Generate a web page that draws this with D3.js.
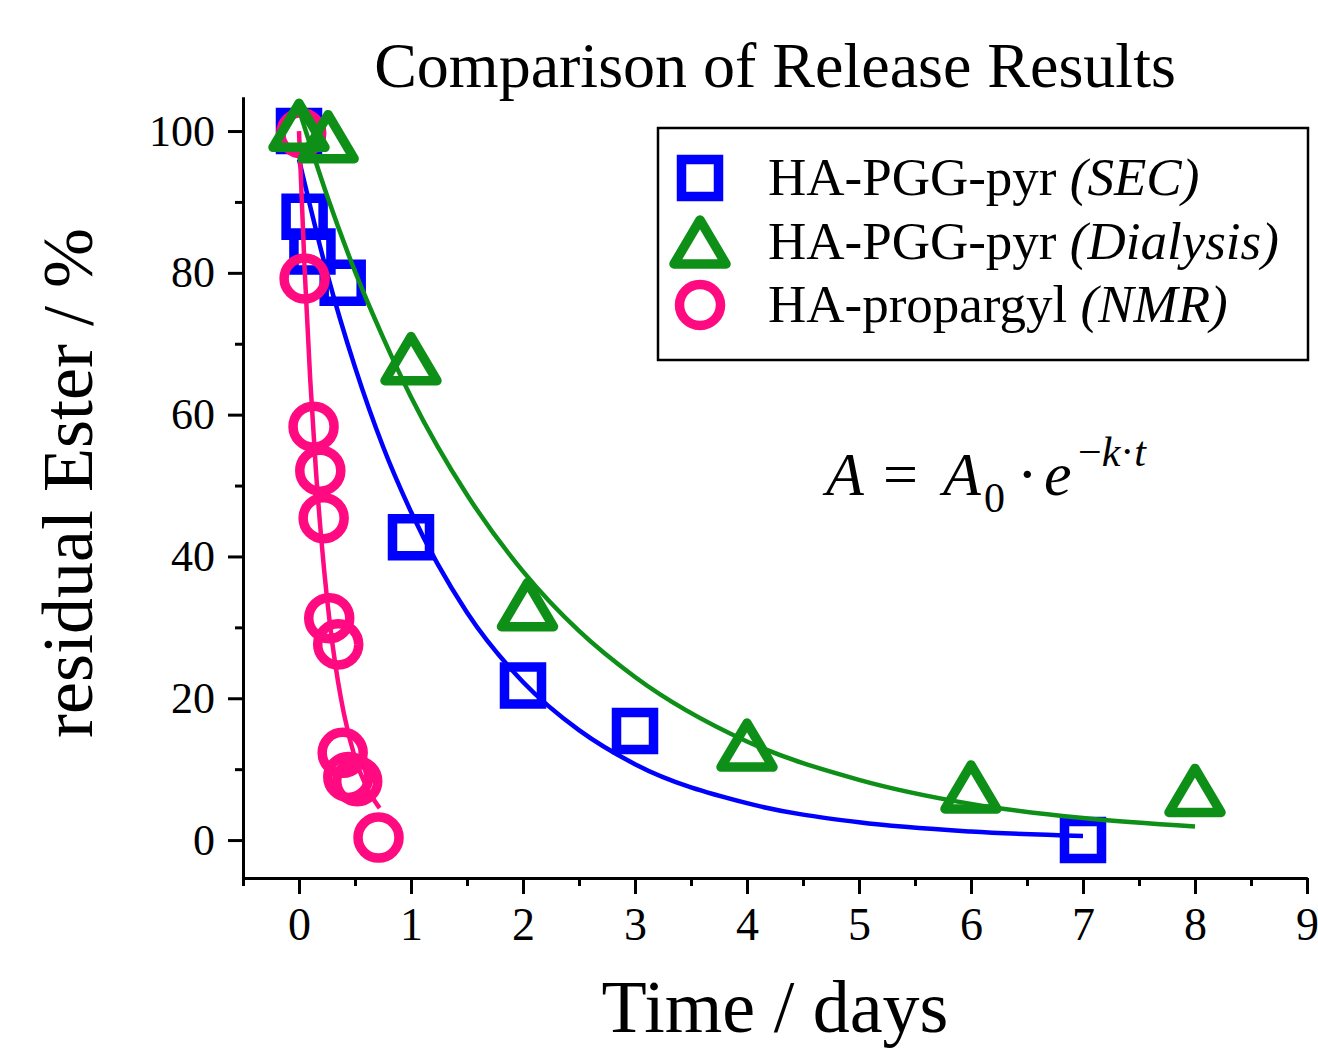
<!DOCTYPE html>
<html>
<head>
<meta charset="utf-8">
<script src="https://cdn.jsdelivr.net/npm/d3@7"></script>
<style>
  body { margin: 0; background: #fff; }
  svg { display: block; font-family: "Liberation Serif", "DejaVu Serif", serif; }
  .axis path, .axis line { stroke: #000; stroke-width: 3; }
  .axis text { fill: #000; font-family: "Liberation Serif", serif; }
</style>
</head>
<body>
<svg class="chart"></svg>
<script>
var secTime = [0, 0.05, 0.12, 0.39, 1, 2, 3, 7];
var secVal  = [100, 87.9, 83, 78.6, 42.7, 21.8, 15.4, 0];

var dialTime = [0, 0.26, 1, 2.04, 4, 6, 8];
var dialVal  = [100.8, 99.2, 67.9, 33.2, 13.4, 7.5, 7.0];

var nmrTime = [0.02, 0.05, 0.13, 0.19, 0.22, 0.27, 0.35, 0.39, 0.44, 0.52, 0.71];
var nmrVal  = [99.7, 79.2, 58.3, 52.1, 45.4, 31.3, 27.6, 12.3, 8.9, 8.3, 0.35];

// fitted exponential curves
var secFitTime = [0, 0.25, 0.5, 0.75, 1, 1.5, 2, 2.5, 3, 4, 5, 6, 7];
var secFitVal  = [96, 80.0, 66.7, 55.5, 46.3, 32.1, 22.3, 15.5, 10.7, 5.2, 2.5, 1.2, 0.58];

var dialFitTime = [0, 0.25, 0.5, 0.75, 1, 1.5, 2, 2.5, 3, 4, 5, 6, 7, 8];
var dialFitVal  = [103, 90.9, 80.2, 70.9, 62.5, 48.7, 37.9, 29.5, 23.0, 13.9, 8.5, 5.1, 3.1, 1.9];

var nmrFitTime = [0, 0.05, 0.1, 0.15, 0.2, 0.25, 0.3, 0.35, 0.4, 0.5, 0.6, 0.72];
var nmrFitVal  = [100, 80.6, 65.0, 52.4, 42.3, 34.1, 27.5, 22.2, 17.9, 11.6, 7.6, 4.5];

var xTicks = [0, 1, 2, 3, 4, 5, 6, 7, 8, 9];
var yTicks = [0, 20, 40, 60, 80, 100];

var width = 1318, height = 1051;
var svg = d3.select(".chart").attr("width", width).attr("height", height);

svg.append("rect").attr("width", width).attr("height", height).attr("fill", "#fff");

var x = d3.scaleLinear().domain([-0.5, 9]).range([243, 1307]);
var y = d3.scaleLinear().domain([-5.35, 104.8]).range([878, 97]);

// axes (major + minor ticks)
svg.append("g").attr("class", "axis")
    .attr("transform", "translate(0,878)")
    .call(d3.axisBottom(x).tickValues(d3.range(-0.5, 9, 1)).tickSize(8).tickSizeOuter(0).tickFormat(""));
svg.append("g").attr("class", "axis")
    .attr("transform", "translate(0,878)")
    .call(d3.axisBottom(x).tickValues(xTicks).tickSize(16).tickSizeOuter(0).tickPadding(13).tickFormat(d3.format("d")))
    .selectAll("text").style("font-size", "46px");

svg.append("g").attr("class", "axis")
    .attr("transform", "translate(243,0)")
    .call(d3.axisLeft(y).tickValues([10, 30, 50, 70, 90]).tickSize(8).tickSizeOuter(0).tickFormat(""));
svg.append("g").attr("class", "axis")
    .attr("transform", "translate(243,0)")
    .call(d3.axisLeft(y).tickValues(yTicks).tickSize(15).tickSizeOuter(0).tickPadding(13).tickFormat(d3.format("d")))
    .selectAll("text").style("font-size", "44px");

// titles
svg.append("text").attr("x", 775).attr("y", 87).attr("text-anchor", "middle")
    .style("font-size", "64px").text("Comparison of Release Results");
svg.append("text").attr("x", 775).attr("y", 1032).attr("text-anchor", "middle")
    .style("font-size", "74px").text("Time / days");
svg.append("text").attr("transform", "translate(92,483) rotate(-90)").attr("text-anchor", "middle")
    .style("font-size", "72px").text("residual Ester / %");

// marker shapes
function markerPath(shape) {
  if (shape == "square") return "M-18.5,-18.5H18.5V18.5H-18.5Z";
  if (shape == "triangle") return "M0,-22L26,22H-26Z";
  return d3.symbol().type(d3.symbolCircle).size(Math.PI * 20.5 * 20.5)();
}

var series = [
  {name: "sec", color: "#0000ff", shape: "square", t: secTime, v: secVal, ft: secFitTime, fv: secFitVal},
  {name: "nmr", color: "#ff0a80", shape: "circle", t: nmrTime, v: nmrVal, ft: nmrFitTime, fv: nmrFitVal},
  {name: "dial", color: "#0e8f17", shape: "triangle", t: dialTime, v: dialVal, ft: dialFitTime, fv: dialFitVal}
];

var line = d3.line()
    .x(function(d){ return x(d[0]); })
    .y(function(d){ return y(d[1]); })
    .curve(d3.curveMonotoneX);

series.forEach(function(s) {
  var g = svg.append("g").attr("class", s.name);
  g.selectAll(".pt")
      .data(d3.zip(s.t, s.v))
    .enter().append("path")
      .attr("class", "pt")
      .attr("d", markerPath(s.shape))
      .attr("transform", function(d){ return "translate(" + x(d[0]) + "," + y(d[1]) + ")"; })
      .attr("fill", "none")
      .attr("stroke", s.color)
      .attr("stroke-width", 9.5)
      .attr("stroke-linejoin", s.shape == "triangle" ? "round" : "miter");
  g.append("path")
      .datum(d3.zip(s.ft, s.fv))
      .attr("d", line)
      .attr("fill", "none")
      .attr("stroke", s.color)
      .attr("stroke-width", 4.5);
});

// legend
var legend = svg.append("g");
legend.append("rect")
    .attr("x", 658).attr("y", 128).attr("width", 650).attr("height", 232)
    .attr("fill", "#fff").attr("stroke", "#000").attr("stroke-width", 2.5);

var legendItems = [
  {shape: "square", color: "#0000ff", label: "HA-PGG-pyr ", method: "(SEC)", cy: 178},
  {shape: "triangle", color: "#0e8f17", label: "HA-PGG-pyr ", method: "(Dialysis)", cy: 242},
  {shape: "circle", color: "#ff0a80", label: "HA-propargyl ", method: "(NMR)", cy: 305}
];

legendItems.forEach(function(it) {
  legend.append("path")
      .attr("d", markerPath(it.shape))
      .attr("transform", "translate(700," + it.cy + ")")
      .attr("fill", "none").attr("stroke", it.color).attr("stroke-width", 9.5)
      .attr("stroke-linejoin", it.shape == "triangle" ? "round" : "miter");
  var t = legend.append("text").attr("x", 768).attr("y", it.cy + 17).style("font-size", "53px");
  t.append("tspan").text(it.label);
  t.append("tspan").style("font-style", "italic").text(it.method);
});

// equation A = A0 · e^(-k·t)
var eq = svg.append("text").attr("y", 495).style("font-size", "62px");
eq.append("tspan").attr("x", 826).style("font-style", "italic").text("A");
eq.append("tspan").attr("x", 883).text("=");
eq.append("tspan").attr("x", 943).style("font-style", "italic").text("A");
eq.append("tspan").attr("x", 984).attr("y", 512).style("font-size", "42px").text("0");
eq.append("tspan").attr("x", 1017).attr("y", 495).text("·");
eq.append("tspan").attr("x", 1044).style("font-style", "italic").text("e");
eq.append("tspan").attr("x", 1078).attr("y", 466).style("font-size", "42px").text("−");
eq.append("tspan").style("font-size", "42px").style("font-style", "italic").text("k");
eq.append("tspan").style("font-size", "42px").text("·");
eq.append("tspan").style("font-size", "42px").style("font-style", "italic").text("t");
</script>
</body>
</html>
